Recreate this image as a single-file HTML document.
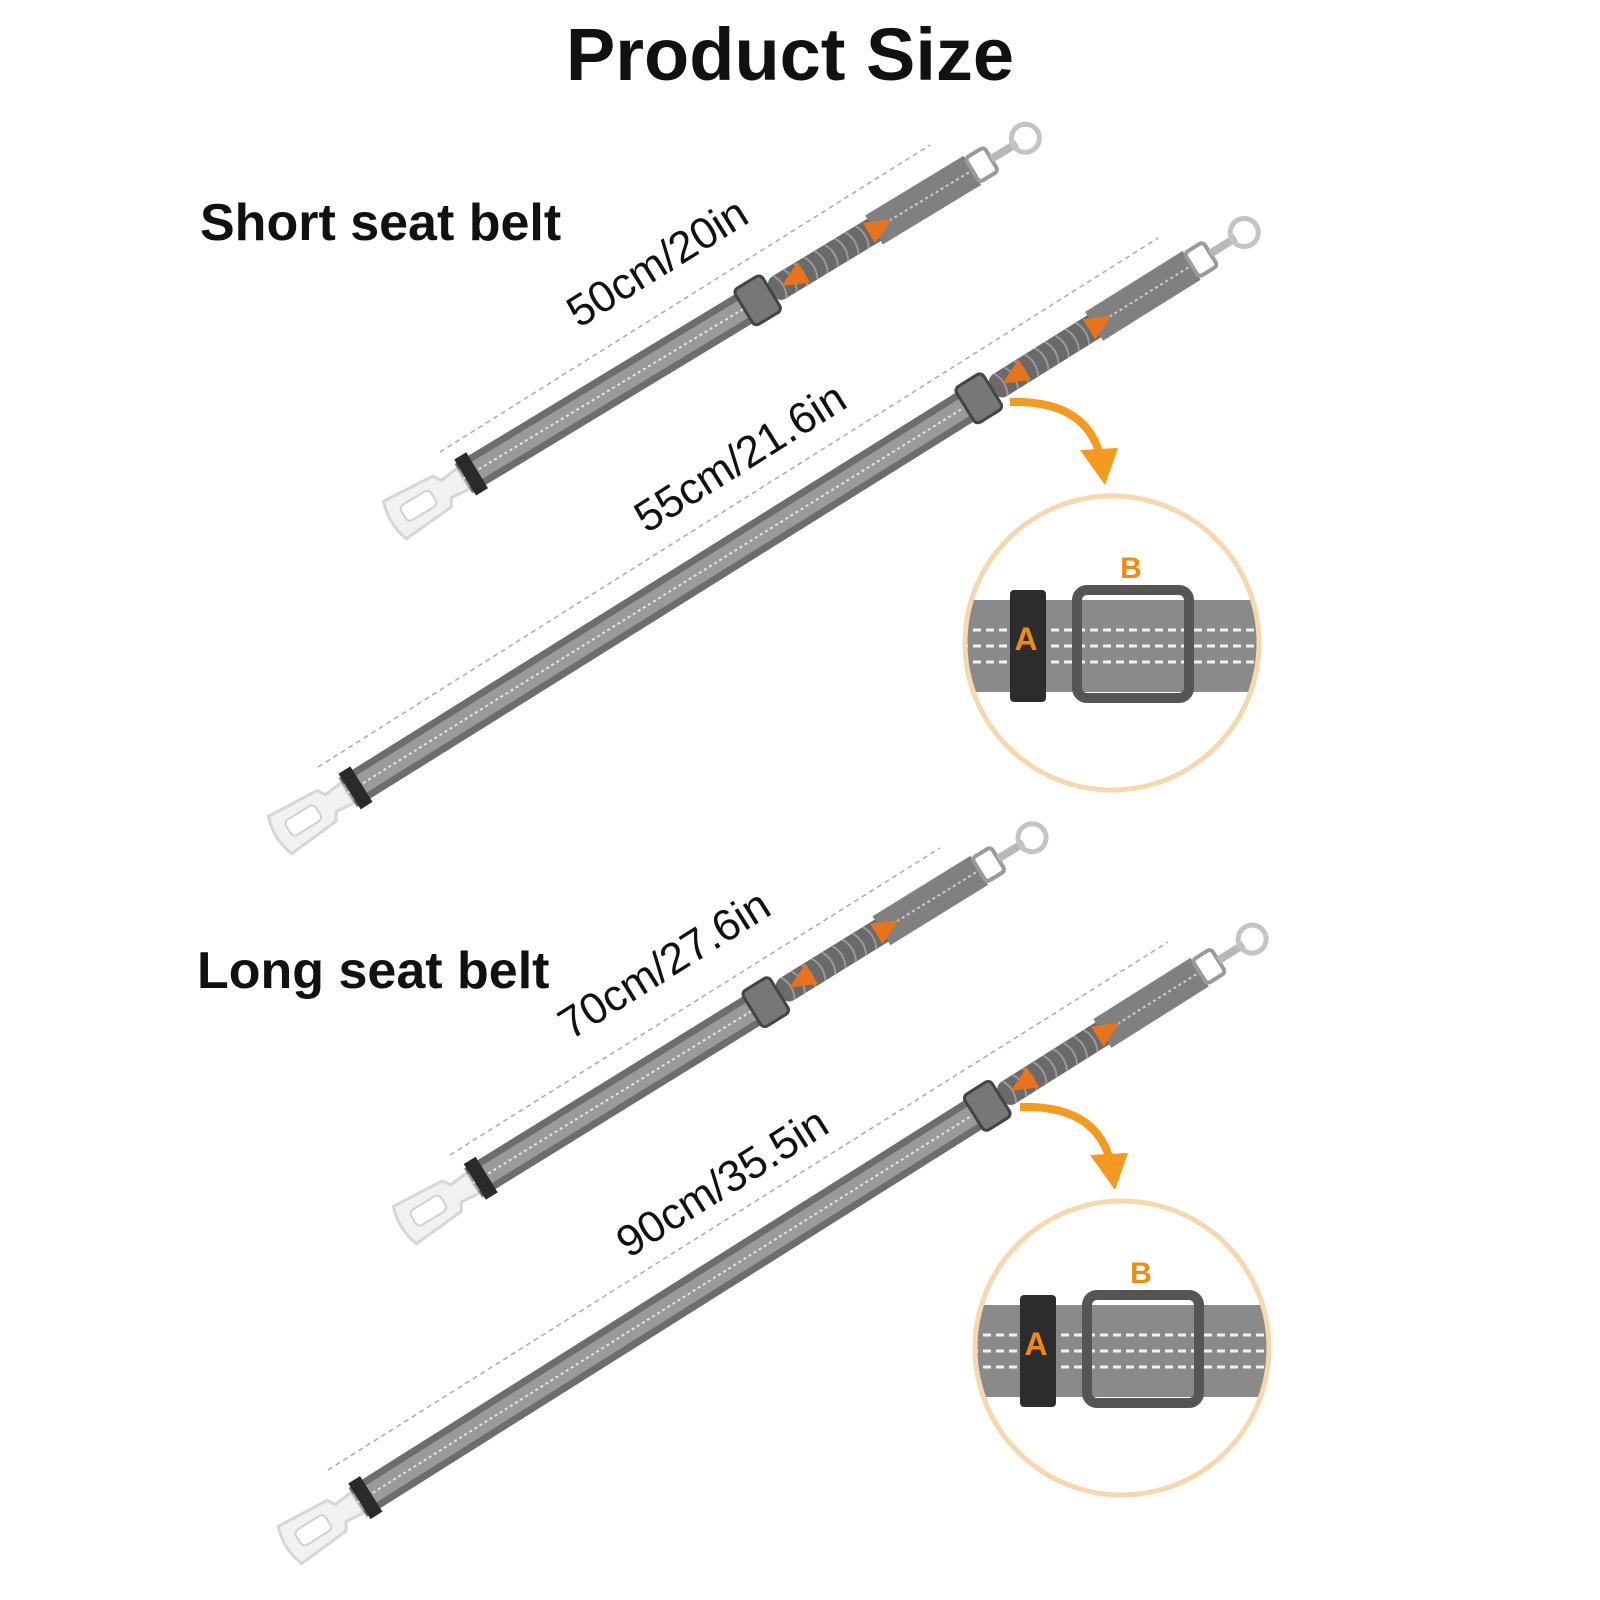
<!DOCTYPE html>
<html><head><meta charset="utf-8"><style>
html,body{margin:0;padding:0;background:#fff;}
svg{display:block;}
text{font-family:"Liberation Sans","DejaVu Sans",sans-serif;}
</style></head><body>
<svg width="1600" height="1600" viewBox="0 0 1600 1600" xmlns="http://www.w3.org/2000/svg">
<defs>
<g id="buckle">
  <path d="M0,-22 L55,-18 L60,-10 L80,-12 L80,12 L60,10 L55,18 L0,22 Q-8,0 0,-22Z" fill="#f1f1f1" stroke="#d6d6d6" stroke-width="3"/>
  <rect x="10" y="-9" width="35" height="18" rx="5" fill="#fff" stroke="#d0d0d0" stroke-width="2"/>
</g>
<g id="clip">
  <rect x="0" y="-14" width="22" height="28" rx="4" fill="none" stroke="#9a9a9a" stroke-width="4"/>
  <rect x="22" y="-4" width="30" height="8" fill="#b8b8b8"/>
  <circle cx="62" cy="0" r="14" fill="none" stroke="#c4c4c4" stroke-width="5"/>
</g>
<g id="bungeeS">
  <rect x="440" y="-13" width="130" height="26" rx="9" fill="#6a6a6a"/>
  <path d="M450,-13 q7,13 0,26 M462,-13 q7,13 0,26 M474,-13 q7,13 0,26 M486,-13 q7,13 0,26 M498,-13 q7,13 0,26 M510,-13 q7,13 0,26 M522,-13 q7,13 0,26 M534,-13 q7,13 0,26 M546,-13 q7,13 0,26" stroke="#999" stroke-width="2" fill="none"/>
  <rect x="560" y="-17" width="115" height="34" fill="#808080"/>
  <line x1="560" y1="0" x2="675" y2="0" stroke="#ccc" stroke-width="2" stroke-dasharray="3,3"/>
  <path d="M452,0 l26,-12 v24z" fill="#e8731c"/><path d="M580,0 l-26,-12 v24z" fill="#e8731c"/>
  <rect x="408" y="-21" width="32" height="42" rx="5" fill="#777" stroke="#444" stroke-width="3"/>
</g>
</defs>

<text x="790" y="80" font-size="74" font-weight="bold" text-anchor="middle" fill="#111">Product Size</text>
<text x="200" y="240" font-size="52" font-weight="bold" fill="#111">Short seat belt</text>
<text x="197" y="988" font-size="52" font-weight="bold" fill="#111">Long seat belt</text>

<g stroke="#aaa" stroke-width="1.5" stroke-dasharray="5,4" fill="none">
  <line x1="440" y1="452" x2="930" y2="145"/>
  <line x1="318" y1="767" x2="1158" y2="238"/>
  <line x1="450" y1="1155" x2="940" y2="848"/>
  <line x1="328" y1="1470" x2="1168" y2="942"/>
</g>

<g transform="translate(395,520) rotate(-31.2)">
  <use href="#buckle"/>
  <rect x="80" y="-17" width="340" height="34" fill="#6d6d6d"/>
  <rect x="80" y="-10" width="340" height="20" fill="#9a9a9a"/>
  <line x1="80" y1="0" x2="420" y2="0" stroke="#e4e4e4" stroke-width="2" stroke-dasharray="3,3"/>
  <rect x="82" y="-21" width="14" height="42" fill="#2a2a2a"/>
  <use href="#bungeeS"/>
  <use href="#clip" x="675"/>
</g>
<g transform="translate(280,835) rotate(-32)">
  <use href="#buckle"/>
  <rect x="80" y="-17" width="740" height="34" fill="#6d6d6d"/>
  <rect x="80" y="-10" width="740" height="20" fill="#9a9a9a"/>
  <line x1="80" y1="0" x2="820" y2="0" stroke="#e4e4e4" stroke-width="2" stroke-dasharray="3,3"/>
  <rect x="82" y="-21" width="14" height="42" fill="#2a2a2a"/>
  <use href="#bungeeS" x="400"/>
  <use href="#clip" x="1075"/>
</g>
<g transform="translate(405,1225) rotate(-31.7)">
  <use href="#buckle"/>
  <rect x="80" y="-17" width="340" height="34" fill="#6d6d6d"/>
  <rect x="80" y="-10" width="340" height="20" fill="#9a9a9a"/>
  <line x1="80" y1="0" x2="420" y2="0" stroke="#e4e4e4" stroke-width="2" stroke-dasharray="3,3"/>
  <rect x="82" y="-21" width="14" height="42" fill="#2a2a2a"/>
  <use href="#bungeeS"/>
  <use href="#clip" x="675"/>
</g>
<g transform="translate(290,1545) rotate(-32.2)">
  <use href="#buckle"/>
  <rect x="80" y="-17" width="740" height="34" fill="#6d6d6d"/>
  <rect x="80" y="-10" width="740" height="20" fill="#9a9a9a"/>
  <line x1="80" y1="0" x2="820" y2="0" stroke="#e4e4e4" stroke-width="2" stroke-dasharray="3,3"/>
  <rect x="82" y="-21" width="14" height="42" fill="#2a2a2a"/>
  <use href="#bungeeS" x="400"/>
  <use href="#clip" x="1075"/>
</g>

<text transform="translate(665,275) rotate(-31.9)" font-size="44" text-anchor="middle" fill="#111">50cm/20in</text>
<text transform="translate(748,470) rotate(-32.2)" font-size="44" text-anchor="middle" fill="#111">55cm/21.6in</text>
<text transform="translate(672,977) rotate(-32.1)" font-size="44" text-anchor="middle" fill="#111">70cm/27.6in</text>
<text transform="translate(730,1195) rotate(-32.2)" font-size="44" text-anchor="middle" fill="#111">90cm/35.5in</text>

<path d="M1010,402 Q1085,400 1100,455" stroke="#f59a1e" stroke-width="8" fill="none"/>
<path d="M1080,450 L1118,448 L1105,485Z" fill="#f59a1e"/>
<path d="M1020,1107 Q1095,1105 1110,1160" stroke="#f59a1e" stroke-width="8" fill="none"/>
<path d="M1090,1155 L1128,1153 L1115,1190Z" fill="#f59a1e"/>

<g>
<clipPath id="cp1"><circle cx="1112" cy="643" r="146"/></clipPath>
<g clip-path="url(#cp1)">
  <rect x="960" y="600" width="310" height="92" fill="#8a8a8a"/>
  <g stroke="#f2f2f2" stroke-width="3" stroke-dasharray="8,5">
    <line x1="960" y1="630" x2="1270" y2="630"/><line x1="960" y1="646" x2="1270" y2="646"/><line x1="960" y1="662" x2="1270" y2="662"/>
  </g>
</g>
<rect x="1010" y="590" width="36" height="112" rx="4" fill="#2c2c2c"/>
<rect x="1077" y="590" width="112" height="108" rx="10" fill="none" stroke="#555" stroke-width="10"/>
<text x="1026" y="650" font-size="32" font-weight="bold" text-anchor="middle" fill="#f08a10">A</text>
<text x="1131" y="578" font-size="30" font-weight="bold" text-anchor="middle" fill="#f08a10">B</text>
<circle cx="1112" cy="643" r="147" fill="none" stroke="#f7d7ae" stroke-width="5"/>
</g>
<g transform="translate(10,705)">
<clipPath id="cp2"><circle cx="1112" cy="643" r="146"/></clipPath>
<g clip-path="url(#cp2)">
  <rect x="960" y="600" width="310" height="92" fill="#8a8a8a"/>
  <g stroke="#f2f2f2" stroke-width="3" stroke-dasharray="8,5">
    <line x1="960" y1="630" x2="1270" y2="630"/><line x1="960" y1="646" x2="1270" y2="646"/><line x1="960" y1="662" x2="1270" y2="662"/>
  </g>
</g>
<rect x="1010" y="590" width="36" height="112" rx="4" fill="#2c2c2c"/>
<rect x="1077" y="590" width="112" height="108" rx="10" fill="none" stroke="#555" stroke-width="10"/>
<text x="1026" y="650" font-size="32" font-weight="bold" text-anchor="middle" fill="#f08a10">A</text>
<text x="1131" y="578" font-size="30" font-weight="bold" text-anchor="middle" fill="#f08a10">B</text>
<circle cx="1112" cy="643" r="147" fill="none" stroke="#f7d7ae" stroke-width="5"/>
</g>
</svg>
</body></html>
